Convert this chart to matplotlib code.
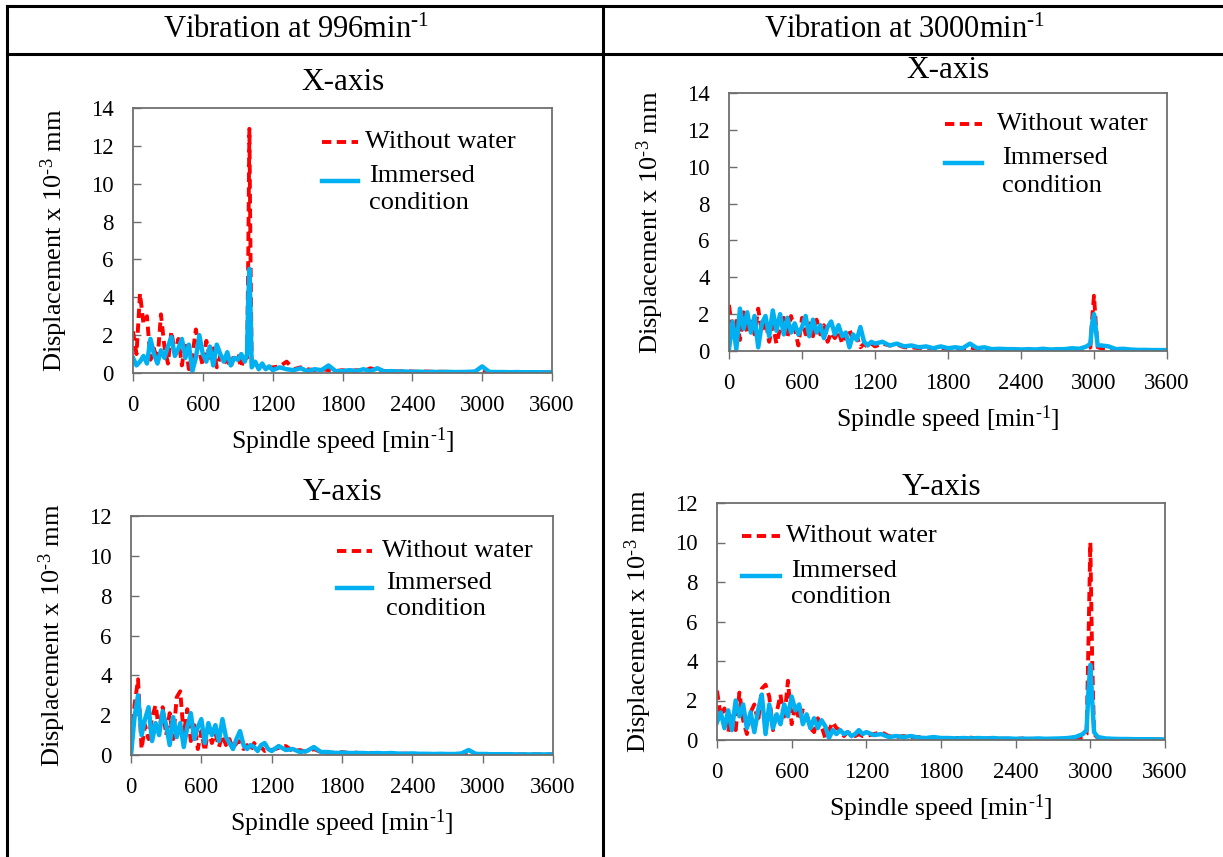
import matplotlib
matplotlib.use("Agg")
import matplotlib.pyplot as plt
from matplotlib.lines import Line2D

plt.rcParams.update({
    "font.family": "Liberation Serif", "mathtext.fontset": "custom",
    "mathtext.rm": "Liberation Serif", "mathtext.it": "Liberation Serif:italic",
})
W, H = 1223, 857
RED, BLUE, SPINE = "#ff0000", "#00b0f0", "#6e6e6e"

# speed grids [min^-1]
X_996 = [0, 30, 60, 90, 120, 150, 180, 210, 240, 270, 300, 330, 360, 390, 420, 450, 480, 510,
         540, 570, 600, 630, 660, 690, 720, 750, 780, 810, 840, 870, 900, 930, 960,
         980, 990, 1000, 1010, 1020, 1050, 1080, 1110, 1140, 1170, 1200,
         1260, 1320, 1380, 1440, 1500, 1560, 1620, 1680, 1740, 1800, 1860, 1920, 1980, 2040,
         2100, 2160, 2220, 2280, 2340, 2400, 2460, 2520, 2580, 2640, 2700, 2760, 2820, 2880,
         2940, 3000, 3060, 3120, 3180, 3240, 3300, 3360, 3420, 3480, 3540, 3600]
X_3000 = [0, 30, 60, 90, 120, 150, 180, 210, 240, 270, 300, 330, 360, 390, 420, 450, 480, 510,
          540, 570, 600, 630, 660, 690, 720, 750, 780, 810, 840, 870, 900, 930, 960, 990,
          1020, 1050, 1080, 1110, 1140, 1170, 1200,
          1260, 1320, 1380, 1440, 1500, 1560, 1620, 1680, 1740, 1800, 1860, 1920, 1980, 2040,
          2100, 2160, 2220, 2280, 2340, 2400, 2460, 2520, 2580, 2640, 2700, 2760, 2820, 2880,
          2940, 2970, 2985, 3000, 3015, 3030,
          3060, 3120, 3180, 3240, 3300, 3360, 3420, 3480, 3540, 3600]

# displacement x 1e-3 mm
X996_DRY = [2.2, 1.0, 4.2, 2.6, 3.0, 0.7, 1.3, 0.6, 3.1, 1.4, 0.5, 2.2, 1.0, 1.8, 0.4, 1.6, 0.2, 0.9,
            2.3, 1.1, 0.4, 1.7, 0.8, 1.3, 0.3, 0.9, 0.5, 0.7, 0.3, 1.0, 0.9, 0.3, 1.0,
            0.8, 6.0, 12.9, 6.0, 0.5, 0.6, 0.3, 0.4, 0.2, 0.3, 0.3,
            0.35, 0.6, 0.2, 0.3, 0.2, 0.15, 0.2, 0.15, 0.1, 0.15, 0.1, 0.15, 0.1, 0.25,
            0.15, 0.1, 0.1, 0.08, 0.1, 0.08, 0.06, 0.08, 0.06, 0.07, 0.06, 0.05, 0.06, 0.05,
            0.06, 0.1, 0.05, 0.05, 0.04, 0.05, 0.04, 0.04, 0.04, 0.03, 0.04, 0.03]
X996_WET = [0.8, 0.4, 0.6, 0.9, 0.5, 1.8, 1.0, 0.5, 1.2, 0.8, 1.4, 1.9, 0.9, 1.3, 1.8, 0.8, 1.5, 0.1,
            0.8, 2.0, 1.0, 0.6, 1.4, 0.4, 1.5, 1.0, 0.6, 1.1, 0.4, 0.8, 0.7, 1.0, 0.6,
            1.0, 3.8, 5.5, 3.2, 0.3, 0.6, 0.2, 0.5, 0.2, 0.35, 0.15,
            0.3, 0.2, 0.15, 0.25, 0.1, 0.2, 0.15, 0.4, 0.1, 0.1, 0.15, 0.1, 0.2, 0.1,
            0.25, 0.08, 0.1, 0.07, 0.08, 0.06, 0.07, 0.05, 0.06, 0.05, 0.06, 0.05, 0.05, 0.06,
            0.08, 0.35, 0.06, 0.05, 0.05, 0.04, 0.05, 0.04, 0.04, 0.04, 0.03, 0.04]

X3000_DRY = [2.5, 1.0, 1.8, 0.6, 2.1, 1.0, 1.6, 0.9, 2.3, 1.0, 1.7, 0.5, 1.4, 0.4, 1.2, 1.8, 0.7, 1.9,
             1.2, 0.3, 1.8, 0.9, 1.5, 0.8, 1.7, 0.9, 1.4, 0.5, 1.0, 0.7, 1.1, 0.4, 0.9, 1.2,
             0.5, 0.8, 0.2, 0.4, 0.2, 0.4, 0.25,
             0.4, 0.3, 0.35, 0.2, 0.2, 0.15, 0.2, 0.12, 0.15, 0.1, 0.12, 0.1, 0.2, 0.1,
             0.1, 0.08, 0.1, 0.07, 0.08, 0.06, 0.07, 0.06, 0.06, 0.05, 0.06, 0.05, 0.06, 0.08,
             0.1, 0.2, 1.8, 3.0, 1.5, 0.2,
             0.15, 0.1, 0.08, 0.06, 0.05, 0.05, 0.04, 0.04, 0.04, 0.03]
X3000_WET = [0.1, 1.6, 0.1, 2.3, 1.2, 2.1, 1.0, 1.9, 0.2, 1.5, 1.9, 0.8, 2.2, 1.1, 2.0, 0.9, 1.8, 1.0,
             1.5, 0.9, 1.3, 1.9, 0.8, 1.7, 1.0, 1.4, 0.7, 1.3, 1.6, 0.9, 1.4, 0.8, 1.0, 0.2,
             0.9, 0.6, 1.3, 0.5, 0.3, 0.5, 0.4,
             0.5, 0.3, 0.4, 0.25, 0.3, 0.2, 0.25, 0.15, 0.25, 0.15, 0.2, 0.15, 0.4, 0.15,
             0.2, 0.1, 0.12, 0.1, 0.1, 0.08, 0.1, 0.08, 0.12, 0.08, 0.1, 0.1, 0.15, 0.12,
             0.25, 0.4, 1.5, 2.0, 1.2, 0.3,
             0.3, 0.25, 0.1, 0.12, 0.08, 0.06, 0.06, 0.05, 0.05, 0.05]

Y996_DRY = [0.1, 2.5, 3.8, 0.3, 1.5, 0.8, 1.9, 2.5, 1.2, 2.4, 1.0, 2.1, 0.8, 2.9, 3.2, 1.0, 2.3, 0.7,
            1.5, 0.3, 1.2, 0.2, 1.3, 0.6, 1.1, 0.4, 1.0, 0.5, 0.8, 0.3, 0.6, 0.7, 0.3, 0.5,
            0.2, 0.6, 0.3, 0.4, 0.2, 0.3, 0.25,
            0.35, 0.45, 0.2, 0.25, 0.15, 0.3, 0.15, 0.1, 0.12, 0.15, 0.1, 0.12, 0.08, 0.1,
            0.08, 0.07, 0.08, 0.06, 0.07, 0.06, 0.05, 0.06, 0.05, 0.05, 0.05, 0.04, 0.05, 0.1,
            0.05, 0.04, 0.04, 0.04, 0.04, 0.04,
            0.04, 0.03, 0.04, 0.03, 0.03, 0.03, 0.03, 0.03, 0.03, 0.03]
Y996_WET = [0.0, 1.9, 3.0, 1.0, 1.8, 2.4, 0.7, 1.6, 1.0, 2.2, 1.5, 0.5, 1.9, 0.9, 1.6, 0.4, 1.4, 2.1,
            0.8, 1.4, 1.8, 0.6, 1.6, 1.0, 1.5, 0.7, 1.8, 0.9, 0.6, 0.3, 0.8, 1.2, 0.5, 0.3,
            0.5, 0.4, 0.2, 0.5, 0.6, 0.3, 0.2,
            0.45, 0.25, 0.3, 0.15, 0.2, 0.4, 0.15, 0.15, 0.1, 0.12, 0.1, 0.1, 0.1, 0.08,
            0.1, 0.08, 0.1, 0.07, 0.06, 0.08, 0.06, 0.06, 0.05, 0.06, 0.05, 0.05, 0.08, 0.25,
            0.06, 0.05, 0.05, 0.05, 0.05, 0.05,
            0.04, 0.04, 0.04, 0.04, 0.03, 0.03, 0.03, 0.03, 0.03, 0.03]

Y3000_DRY = [2.5, 1.2, 1.6, 0.4, 1.2, 0.5, 2.4, 1.0, 0.3, 1.4, 1.8, 0.9, 2.6, 2.8, 2.2, 0.5, 1.4, 2.3,
             1.0, 3.0, 0.8, 1.8, 1.0, 1.5, 1.3, 0.6, 0.4, 1.1, 0.7, 0.1, 0.5, 0.9, 0.6, 0.5,
             0.2, 0.4, 0.3, 0.2, 0.3, 0.2, 0.2,
             0.3, 0.4, 0.2, 0.15, 0.2, 0.12, 0.15, 0.1, 0.12, 0.1, 0.08, 0.1, 0.08, 0.12,
             0.07, 0.08, 0.06, 0.07, 0.06, 0.05, 0.08, 0.06, 0.05, 0.05, 0.05, 0.05, 0.06, 0.06,
             0.1, 0.3, 5.0, 10.0, 4.0, 0.3,
             0.1, 0.06, 0.05, 0.04, 0.04, 0.04, 0.03, 0.03, 0.03, 0.03]
Y3000_WET = [0.9, 1.4, 0.6, 1.5, 0.5, 2.0, 1.2, 1.8, 0.6, 1.4, 0.4, 1.5, 2.3, 0.3, 1.8, 0.6, 1.3, 0.8,
             1.8, 1.2, 2.2, 1.5, 1.8, 0.8, 1.3, 0.6, 1.1, 0.6, 1.0, 0.7, 0.1, 0.5, 0.3, 0.5,
             0.3, 0.4, 0.2, 0.3, 0.5, 0.3, 0.4,
             0.25, 0.3, 0.15, 0.2, 0.15, 0.2, 0.12, 0.1, 0.15, 0.1, 0.1, 0.08, 0.1, 0.08,
             0.1, 0.08, 0.1, 0.07, 0.08, 0.06, 0.07, 0.06, 0.08, 0.06, 0.07, 0.08, 0.1, 0.15,
             0.3, 0.5, 2.5, 3.8, 2.0, 0.4,
             0.15, 0.08, 0.06, 0.05, 0.05, 0.04, 0.04, 0.04, 0.03, 0.03]

XTICKS = [0, 600, 1200, 1800, 2400, 3000, 3600]

# (box in px: left, top, right, bottom), ymax, title, title y px, legend anchors (axes frac)
PANELS = [
    (X_996, X996_DRY, X996_WET, (133, 108, 552, 373), 14, "X-axis", 82, (0.451, 0.872, 0.563, 0.743, 0.642)),
    (X_3000, X3000_DRY, X3000_WET, (729, 93, 1167, 351), 14, "X-axis", 71, (0.493, 0.880, 0.623, 0.750, 0.641)),
    (X_3000, Y996_DRY, Y996_WET, (131, 516, 553, 755), 12, "Y-axis", 493, (0.487, 0.855, 0.604, 0.718, 0.611)),
    (X_3000, Y3000_DRY, Y3000_WET, (717, 503, 1165, 740), 12, "Y-axis", 488, (0.055, 0.862, 0.165, 0.714, 0.602)),
]
SUP = r"$^{\text{-1}}$"


def fx(x): return x / W
def fy(y): return 1 - y / H


fig = plt.figure(figsize=(W / 100, H / 100), dpi=100)

# table frame
for (x0, y0, x1, y1) in [(7, 6, W, 6), (7, 54, W, 54), (7, 6, 7, H), (603, 6, 603, H)]:
    fig.add_artist(Line2D([fx(x0), fx(x1)], [fy(y0), fy(y1)], color="black", lw=2.2,
                          transform=fig.transFigure))
fig.text(fx(296), fy(30), "Vibration at 996min" + SUP, ha="center", va="center", fontsize=22)
fig.text(fx(905), fy(30), "Vibration at 3000min" + SUP, ha="center", va="center", fontsize=22)

for xs, dry, wet, (l, t, r, b), ymax, title, ty, (lx, ly1, tx, ty2, ty3) in PANELS:
    ax = fig.add_axes([fx(l), fy(b), (r - l) / W, (b - t) / H])
    ax.plot(xs, dry, color=RED, lw=2.8, ls=(0, (2.4, 1.4)))
    ax.plot(xs, wet, color=BLUE, lw=3.2)
    ax.set_xlim(0, 3600); ax.set_ylim(0, ymax)
    ax.set_xticks(XTICKS); ax.set_yticks(range(0, ymax + 1, 2))
    ax.tick_params(axis="x", direction="out", length=6, width=1, color=SPINE, labelsize=16.5, pad=10)
    ax.tick_params(axis="y", direction="in", length=6, width=1, color=SPINE, labelsize=16.5, pad=14)
    for s in ax.spines.values():
        s.set_color(SPINE); s.set_linewidth(1.3)
    ax.set_xlabel("Spindle speed [min" + SUP + "]", fontsize=18.5, labelpad=7)
    ax.set_ylabel(r"Displacement x 10$^{\text{-3}}$ mm", fontsize=19, labelpad=15)
    fig.text(fx((l + r) / 2), fy(ty), title, ha="center", va="center", fontsize=22.5)
    # legend drawn by hand: second label wraps under the handle
    hw = 0.085
    ax.plot([lx, lx + hw], [ly1, ly1], color=RED, lw=2.8, ls=(0, (2.4, 1.4)), transform=ax.transAxes)
    ax.text(tx - 0.01, ly1, "Without water", transform=ax.transAxes, va="center", fontsize=19)
    ax.plot([lx, lx + hw], [ty2 - 0.02, ty2 - 0.02], color=BLUE, lw=3.2, transform=ax.transAxes)
    ax.text(tx, ty2, "Immersed", transform=ax.transAxes, va="center", fontsize=19)
    ax.text(tx, ty3, "condition", transform=ax.transAxes, va="center", fontsize=19)

fig.savefig("out.png", dpi=100)
